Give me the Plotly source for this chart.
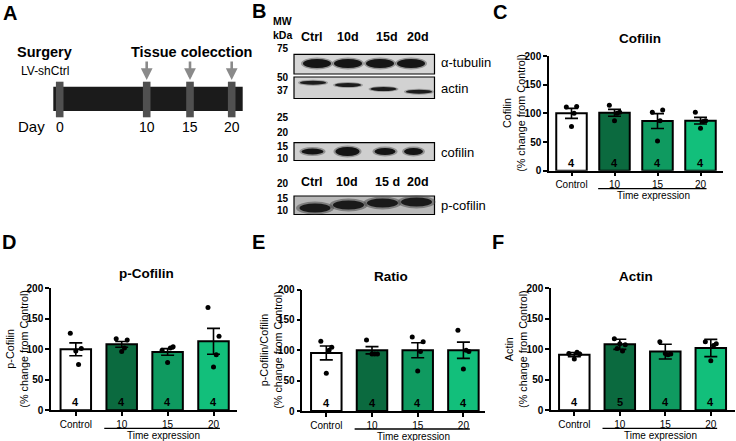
import plotly.graph_objects as go

W, H = 736, 441
FONT = "Arial, Liberation Sans, sans-serif"


def X(p):
    return p / W


def Y(p):
    return 1 - p / H


# ---------------- data ----------------
categories = ["Control", "10", "15", "20"]
bar_colors = ["#ffffff", "#0b6a3f", "#0f9a60", "#12bf7b"]

cofilin_mean = [100, 101, 86.6, 87.2]
cofilin_sem = [8.7, 6.0, 13.0, 5.8]
cofilin_pts = [[111, 112, 77, 100], [114, 102, 87, 100], [102, 106, 52, 87], [102, 87, 74, 86]]
cofilin_n = [4, 4, 4, 4]

pcofilin_mean = [99.7, 107.9, 95.4, 112.8]
pcofilin_sem = [10.6, 4.7, 5.4, 21.2]
pcofilin_pts = [[126, 101, 97, 75], [117, 115, 96, 102], [98, 104, 78, 102], [168, 121, 71, 91]]
pcofilin_n = [4, 4, 4, 4]

ratio_mean = [95.6, 100, 100, 100]
ratio_sem = [11.5, 6.0, 12.3, 13.3]
ratio_pts = [[115, 105, 62, 100], [117, 94, 94, 94], [122, 114, 66, 98], [133, 98, 69, 100]]
ratio_n = [4, 4, 4, 4]

actin_mean = [91, 107.9, 96, 101.9]
actin_sem = [3.5, 8.2, 12.0, 14.1]
actin_pts = [[93, 92, 84, 95], [117, 107, 109, 97, 101], [112, 92, 93, 91], [112, 109, 81, 106]]
actin_n = [4, 5, 4, 4]

day_ticks = ["0", "10", "15", "20"]
lanes_top = ["Ctrl", "10d", "15d", "20d"]
lanes_bottom = ["Ctrl", "10d", "15 d", "20d"]
mw_labels = ["75", "50", "37", "25", "20", "15", "10"]
mw_labels_b = ["20", "15", "10"]
blot_names = ["α-tubulin", "actin", "cofilin", "p-cofilin"]

# jitter pattern for dots (style only)
jitter = [-0.12, 0.12, 0.0, 0.06, -0.06]

# ---------------- panels ----------------
panels = [
    dict(mean=cofilin_mean, sem=cofilin_sem, pts=cofilin_pts, n=cofilin_n,
         title="Cofilin", ylab="Cofilin", left=549, right=722.7, c0=571.5, sp=43.0,
         y0=170.7, y200=56.0, title_xy=(640, 39), ylab_x=514.5, let="C", let_xy=(500, 12)),
    dict(mean=pcofilin_mean, sem=pcofilin_sem, pts=pcofilin_pts, n=pcofilin_n,
         title="p-Cofilin", ylab="p-Cofilin", left=51, right=236.7, c0=75.8, sp=45.9,
         y0=410.3, y200=288.0, title_xy=(146.7, 273), ylab_x=17.5, let="D", let_xy=(9, 242)),
    dict(mean=ratio_mean, sem=ratio_sem, pts=ratio_pts, n=ratio_n,
         title="Ratio", ylab="p-Cofilin/Cofilin", left=302.3, right=484.5, c0=326.3, sp=45.7,
         y0=411.0, y200=289.5, title_xy=(390.7, 276), ylab_x=271.5, let="E", let_xy=(258, 242)),
    dict(mean=actin_mean, sem=actin_sem, pts=actin_pts, n=actin_n,
         title="Actin", ylab="Actin", left=551, right=735, c0=574.3, sp=45.5,
         y0=410.3, y200=288.0, title_xy=(635.7, 276), ylab_x=515.8, let="F", let_xy=(498, 242)),
]

fig = go.Figure()
annotations = []
shapes = []


def ann(**kw):
    kw.setdefault("xanchor", "center")
    kw.setdefault("yanchor", "middle")
    kw.setdefault("showarrow", False)
    annotations.append(kw)


for i, p in enumerate(panels):
    k = "" if i == 0 else str(i + 1)
    xa, ya = "x" + k, "y" + k
    xr = [(p["left"] - p["c0"]) / p["sp"], (p["right"] - p["c0"]) / p["sp"]]
    bw = 30.5 / p["sp"]
    xs = list(range(len(categories)))
    fig.add_trace(go.Bar(
        x=xs, y=p["mean"], width=bw, xaxis=xa, yaxis=ya,
        marker=dict(color=bar_colors, line=dict(color="black", width=2)),
        error_y=dict(type="data", array=p["sem"], color="black", thickness=1.6, width=6.5),
        showlegend=False, hoverinfo="skip"))
    px_, py_ = [], []
    for j, grp in enumerate(p["pts"]):
        for m, v in enumerate(grp):
            px_.append(j + jitter[m % len(jitter)])
            py_.append(v)
    fig.add_trace(go.Scatter(
        x=px_, y=py_, mode="markers", xaxis=xa, yaxis=ya,
        marker=dict(color="black", size=5), showlegend=False, hoverinfo="skip"))
    axis_common = dict(showline=True, linecolor="black", linewidth=1.5, ticks="outside",
                       tickcolor="black", tickwidth=1.5, ticklen=4, showgrid=False,
                       zeroline=False, automargin=False)
    fig.update_layout(**{
        ("xaxis" + k): dict(domain=[X(p["left"]), X(p["right"])], range=xr,
                            tickvals=xs, ticktext=categories, anchor=ya,
                            tickfont=dict(size=10, family=FONT, color="black"), **axis_common),
        ("yaxis" + k): dict(domain=[Y(p["y0"]), Y(p["y200"])], range=[0, 200],
                            tickvals=[0, 50, 100, 150, 200], anchor=xa,
                            tickfont=dict(size=10, family=FONT, color="black", weight="bold"),
                            **axis_common),
    })
    for j, nv in enumerate(p["n"]):
        ann(x=j, y=14, xref=xa, yref=ya, text="<b>%d</b>" % nv,
            font=dict(size=11, family=FONT, color="black"))
    ann(x=X(p["title_xy"][0]), y=Y(p["title_xy"][1]), xref="paper", yref="paper",
        text="<b>%s</b>" % p["title"], font=dict(size=13.5, family=FONT, color="black"))
    ymid = (p["y0"] + p["y200"]) / 2
    ann(x=X(p["ylab_x"]), y=Y(ymid), xref="paper", yref="paper",
        text=p["ylab"] + "<br>(% change from Control)", textangle=-90,
        font=dict(size=10.8, family=FONT, color="black"))
    line_y = p["y0"] + 18
    shapes.append(dict(type="line", xref=xa, yref="paper", x0=0.62, x1=3.14,
                       y0=Y(line_y), y1=Y(line_y), line=dict(color="black", width=1.3)))
    ann(x=1.9, y=Y(line_y + 7), xref=xa, yref="paper", text="Time expression",
        font=dict(size=10, family=FONT, color="black"))
    ann(x=X(p["let_xy"][0]), y=Y(p["let_xy"][1]), xref="paper", yref="paper",
        text="<b>%s</b>" % p["let"], font=dict(size=20, family=FONT, color="black"))


def rect(x0, y0, x1, y1, fill, line=None, lw=0):
    shapes.append(dict(type="rect", xref="paper", yref="paper", x0=X(x0), x1=X(x1),
                       y0=Y(y1), y1=Y(y0), fillcolor=fill,
                       line=dict(color=line or fill, width=lw), layer="above"))


def ell(cx, cy, w, h, fill, op=1.0):
    shapes.append(dict(type="circle", xref="paper", yref="paper", x0=X(cx - w / 2), x1=X(cx + w / 2),
                       y0=Y(cy + h / 2), y1=Y(cy - h / 2), fillcolor=fill, opacity=op,
                       line=dict(width=0), layer="above"))


def txt(x, y, s, size, bold=False, anchor="center"):
    ann(x=X(x), y=Y(y), xref="paper", yref="paper",
        text=("<b>%s</b>" % s) if bold else s, xanchor=anchor,
        font=dict(size=size, family=FONT, color="black"))


# ---------------- panel A (schematic) ----------------
txt(10, 13, "A", 20, True)
txt(44.7, 52, "Surgery", 14.5, True)
txt(44.7, 71, "LV-shCtrl", 12)
txt(191, 52, "Tissue colecction", 14.5, True)
rect(53.3, 86.7, 242.7, 111, "#1b1b1b")
marker_x = [59.7, 146.7, 190, 231.7]
for mx in marker_x:
    rect(mx - 3.8, 81.7, mx + 3.8, 117.3, "#505050")
for mx in marker_x[1:]:
    annotations.append(dict(x=X(mx), y=Y(80), xref="paper", yref="paper", text="", showarrow=True,
                            ax=0, ay=-20, arrowhead=2, arrowsize=0.9, arrowwidth=2.6,
                            arrowcolor="#8a8a8a"))
txt(31.5, 126, "Day", 15)
for mx, d in zip(marker_x, day_ticks):
    txt(mx, 127, d, 14)

# ---------------- panel B (blots) ----------------
txt(259, 11, "B", 20, True)
txt(282.7, 21, "MW", 10.5, True)
txt(282.7, 35, "kDa", 10.5, True)
for lx, s in zip([311.7, 348.3, 386.7, 418.3], lanes_top):
    txt(lx, 37, s, 12.5, True)
for lx, s in zip([311.7, 347.3, 387.7, 418.3], lanes_bottom):
    txt(lx, 182, s, 12.5, True)
for s, yy in zip(mw_labels, [48.3, 77.3, 90, 117.3, 132.7, 146.5, 158]):
    txt(282.7, yy, s, 10, True)
for s, yy in zip(mw_labels_b, [183, 198.5, 210.5]):
    txt(282.7, yy, s, 10, True)

# alpha-tubulin
rect(294, 54.3, 434.5, 74, "#d6d6d6", "black", 1.2)
for cx in [317, 348, 380, 411]:
    ell(cx, 63.5, 32, 12, "#555555", 0.5)
    ell(cx, 63.5, 28, 9, "#151515")
# actin
rect(294, 77, 434.5, 98.5, "#d2d2d2", "black", 1.2)
for cx, cy in zip([313, 348, 383.5, 419], [82.7, 85, 89, 91.7]):
    ell(cx, cy, 30, 6, "#666666", 0.5)
    ell(cx, cy, 26, 4, "#1c1c1c")
# cofilin
rect(294, 142.7, 434.5, 160.5, "#cfcfcf", "black", 1.2)
for cx, w, h in zip([312.5, 347.5, 385, 413.5], [22, 24, 21, 19], [6, 9, 7, 7]):
    ell(cx, 151.5, w + 4, h + 3, "#555555", 0.5)
    ell(cx, 151.5, w, h, "#141414")
# p-cofilin
rect(294, 196, 434.5, 214.5, "#b9b9b9", "black", 1.2)
for cx, cy in zip([315, 348.5, 382.5, 416.5], [208, 205, 203, 202]):
    ell(cx, cy, 38, 13, "#444444", 0.5)
    ell(cx, cy, 31, 9, "#1a1a1a")

for s, yy in zip(blot_names, [63, 88.5, 153, 205]):
    txt(439, yy, s, 13, anchor="left")

fig.update_layout(
    width=W, height=H, margin=dict(l=0, r=0, t=0, b=0, pad=0, autoexpand=False),
    paper_bgcolor="white", plot_bgcolor="white",
    font=dict(family=FONT, color="black"),
    annotations=annotations, shapes=shapes, showlegend=False,
)

fig.write_html("out.html", config={"displayModeBar": False},
               post_script="document.body.style.margin='0';document.body.style.overflow='hidden';")
